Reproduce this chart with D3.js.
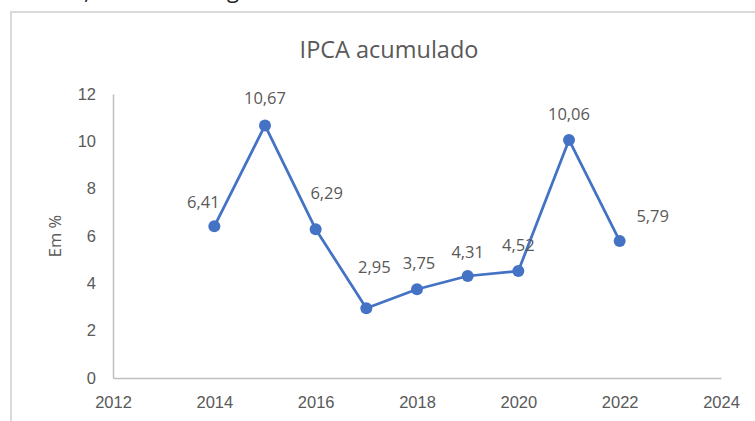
<!DOCTYPE html>
<html>
<head>
<meta charset="utf-8">
<script src="https://cdn.jsdelivr.net/npm/d3@7.9.0/dist/d3.min.js"></script>
<style>
  html, body { margin: 0; padding: 0; background: #fff; }
  svg { display: block; font-family: "Open Sans", "Noto Sans", sans-serif; }
</style>
</head>
<body>
<svg id="chart" width="755" height="421"></svg>
<script>
// IPCA acumulado por ano (em %)
const years = [2014, 2015, 2016, 2017, 2018, 2019, 2020, 2021, 2022];
const ipca = [6.41, 10.67, 6.29, 2.95, 3.75, 4.31, 4.52, 10.06, 5.79];
const xTicks = [2012, 2014, 2016, 2018, 2020, 2022, 2024];
const yTicks = [0, 2, 4, 6, 8, 10, 12];

// where each data label sits relative to its point (like Excel's auto placement)
const labelOffsets = [[-11, -24], [0, -27], [11, -36], [8, -41], [2, -26], [0, -24], [0, -26], [0, -26], [33, -25]];

const data = years.map((y, i) => ({ year: y, value: ipca[i] }));

const svg = d3.select('#chart');
const textColor = '#595959';
const blue = '#4472C4';

// bits of the text line above the chart (only the descenders are visible)
svg.append('text').attr('x', 84).attr('y', -1).attr('font-size', 24).attr('fill', '#222').text(',');
svg.append('text').attr('x', 227).attr('y', -2).attr('font-size', 22).attr('fill', '#222').text('g');

// chart frame
svg.append('rect')
  .attr('x', 11).attr('y', 12)
  .attr('width', 800).attr('height', 450)
  .attr('fill', '#fff')
  .attr('stroke', '#d9d9d9')
  .attr('stroke-width', 2);

let x = d3.scaleLinear().domain([2012, 2024]).range([113, 721]);
let y = d3.scaleLinear().domain([0, 12]).range([378, 94]);

// title
svg.append('text')
  .attr('x', 389).attr('y', 58)
  .attr('text-anchor', 'middle')
  .attr('font-size', 23.5)
  .attr('fill', textColor)
  .text('IPCA acumulado');

// y axis
let yAxis = svg.append('g')
  .attr('transform', `translate(${x(2012)},0)`)
  .call(d3.axisLeft(y).tickValues(yTicks).tickSize(0).tickPadding(17));
yAxis.select('.domain').attr('stroke', '#bfbfbf').attr('stroke-width', 1.5);
yAxis.selectAll('text').attr('font-size', 16.5).attr('fill', textColor).attr('font-family', null);

// x axis
let xAxis = svg.append('g')
  .attr('transform', `translate(0,${y(0)})`)
  .call(d3.axisBottom(x).tickValues(xTicks).tickFormat(d3.format('d')).tickSize(0).tickPadding(18));
xAxis.select('.domain').attr('stroke', '#bfbfbf').attr('stroke-width', 1.5);
xAxis.selectAll('text').attr('font-size', 16.5).attr('fill', textColor).attr('font-family', null);

// y axis title
svg.append('text')
  .attr('transform', `translate(61,${y(6)}) rotate(-90)`)
  .attr('text-anchor', 'middle')
  .attr('font-size', 16.5)
  .attr('fill', textColor)
  .text('Em %');

// line
let line = d3.line().x(d => x(d.year)).y(d => y(d.value));
svg.append('path')
  .datum(data)
  .attr('d', line)
  .attr('fill', 'none')
  .attr('stroke', blue)
  .attr('stroke-width', 2.75)
  .attr('stroke-linejoin', 'round');

// markers
svg.selectAll('circle.pt')
  .data(data)
  .enter()
  .append('circle')
  .attr('class', 'pt')
  .attr('cx', d => x(d.year))
  .attr('cy', d => y(d.value))
  .attr('r', 6)
  .attr('fill', blue);

// data labels with comma decimal separator
const fmt = v => v.toFixed(2).replace('.', ',');
svg.selectAll('text.lbl')
  .data(data)
  .enter()
  .append('text')
  .attr('class', 'lbl')
  .attr('x', (d, i) => x(d.year) + labelOffsets[i][0])
  .attr('y', (d, i) => y(d.value) + labelOffsets[i][1])
  .attr('dy', '0.35em')
  .attr('text-anchor', 'middle')
  .attr('font-size', 16.5)
  .attr('fill', textColor)
  .text(d => fmt(d.value));
</script>
</body>
</html>
